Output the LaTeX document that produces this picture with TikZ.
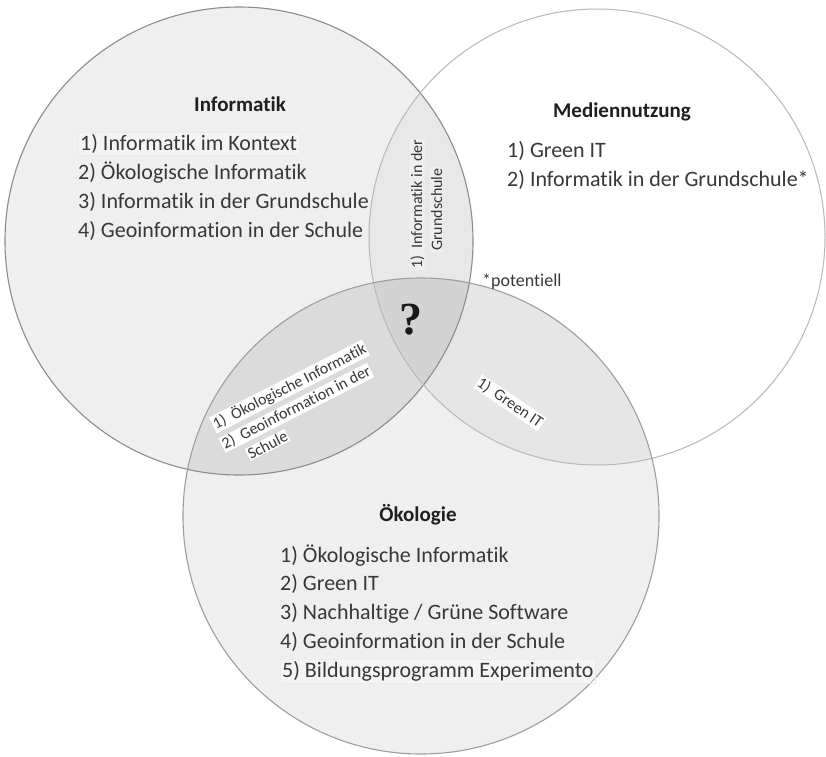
\documentclass[tikz,border=0pt]{standalone}
\usepackage{fontspec}
\setmainfont{Carlito}[Ligatures=NoCommon]
\newfontfamily\qmarkfont{Liberation Serif}
\usepackage{xcolor}
\usetikzlibrary{positioning}

\definecolor{txtgray}{HTML}{383838}
\definecolor{setfill}{HTML}{EFEFEF}
\definecolor{lensIO}{HTML}{DBDBDB}
\definecolor{lensIM}{HTML}{E8E8E8}
\definecolor{lensMO}{HTML}{E6E6E6}
\definecolor{lensall}{HTML}{D3D3D3}

\tikzset{
  listtext/.style={anchor=base west,inner sep=0pt,text=txtgray,font=\fontsize{22}{26}\selectfont},
  headtext/.style={anchor=base,inner sep=0pt,text=black!88,font=\fontsize{21}{25}\selectfont\bfseries},
  lenstext/.style={anchor=base west,inner sep=1pt,fill=white,text=txtgray,font=\fontsize{16}{19}\selectfont},
  hl/.style={draw=black!8,fill=white,fill opacity=0.35,text opacity=1,inner sep=2pt},
  infitem1/.style={hl},
  okoitem5/.style={hl}
}

\begin{document}
\begin{tikzpicture}[x=1pt,y=-1pt]
	\useasboundingbox (0,0) rectangle (826,756);
	\fill[white] (0,0) rectangle (826,756);
	% centres of the three sets
	\coordinate (inf) at (239,241);
	\coordinate (med) at (597,237);
	\coordinate (oko) at (421,516);

	% base fills
	\fill[setfill] (inf) circle (234pt);
	\fill[setfill] (oko) circle (238pt);
	% pairwise lenses
	\begin{scope}
		\clip (inf) circle (234pt);
		\fill[lensIO] (oko) circle (238pt);
		\fill[lensIM] (med) circle (228pt);
	\end{scope}
	\begin{scope}
		\clip (med) circle (228pt);
		\fill[lensMO] (oko) circle (238pt);
		\clip (inf) circle (234pt);
		\fill[lensall] (oko) circle (238pt);
	\end{scope}
	% outlines
	\draw[line width=1.1pt,black!45] (inf) circle (234pt);
	\draw[line width=1pt,black!28] (med) circle (228pt);
	\draw[line width=1.1pt,black!38] (oko) circle (238pt);

	% Informatik
	\node[headtext] (infhead) at (240,111) {Informatik};
	\foreach \txt [count=\i] in {Informatik im Kontext,Ökologische Informatik,Informatik in der Grundschule,Geoinformation in der Schule}
		\node[listtext,infitem\i/.try] (inf\i) at (78,{150+29*(\i-1)}) {\i) \txt};

	% Mediennutzung
	\node[headtext] (medhead) at (622,117) {Mediennutzung};
	\node[listtext] (med1) at (507,157) {1) Green IT};
	\node[listtext] (med2) at (507,186) {2) Informatik in der Grundschule*};
	\node[listtext,font=\fontsize{18}{22}\selectfont] (pot) at (482,286) {*potentiell};

	% Oekologie
	\node[headtext] (okohead) at (418,521) {Ökologie};
	\foreach \txt [count=\i] in {Ökologische Informatik,Green IT,Nachhaltige / Grüne Software,Geoinformation in der Schule,Bildungsprogramm Experimento}
		\node[listtext,okoitem\i/.try] (oko\i) at (280,{562+28.8*(\i-1)}) {\i) \txt};

	% overlaps
	\node[lenstext,rotate=90,fill opacity=0.3,text opacity=1] (im1) at (422,270) {1)\ \ Informatik in der};
	\node[lenstext,rotate=90,fill opacity=0.3,text opacity=1] (im2) at (442,252) {Grundschule};
	\node[lenstext,rotate=27] (io1) at (215,430) {1)\ \ Ökologische Informatik};
	\node[lenstext,rotate=27] (io2) at (224,450) {2)\ \ Geoinformation in der};
	\node[lenstext,rotate=27] (io3) at (250,460) {Schule};
	\node[lenstext,rotate=-34] (mo1) at (475,385) {1)\ \ Green IT};
	\node[inner sep=0pt,text=black!90,font=\qmarkfont\fontsize{46}{50}\selectfont\bfseries] (qm) at (411,320) {?};
\end{tikzpicture}
\end{document}
